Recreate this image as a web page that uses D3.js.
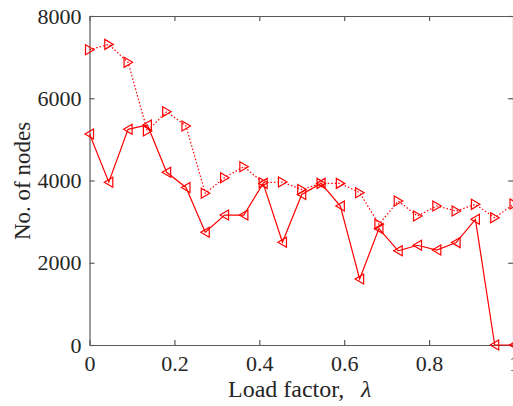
<!DOCTYPE html>
<html><head><meta charset="utf-8">
<script src="https://cdn.jsdelivr.net/npm/d3@7"></script>
<style>body{margin:0;background:#fff}svg{display:block}</style>
</head><body>
<svg id="c" width="513" height="406"></svg>
<script>
const lambda = [0,1,2,3,4,5,6,7,8,9,10,11,12,13,14,15,16,17,18,19,20,21,22].map(i=>i/22);
const solidSeries = [5130,3960,5245,5350,4200,3830,2740,3160,3160,3930,2500,3660,3930,3380,1605,2830,2290,2425,2310,2490,3056,0,0];
const dottedSeries = [7180,7310,6873,5203,5672,5325,3690,4069,4336,3946,3963,3780,3930,3930,3704,2935,3501,3136,3380,3258,3420,3096,3428];
const xTicks = [0,0.2,0.4,0.6,0.8,1];
const xTickLabels = ["0","0.2","0.4","0.6","0.8","1"];
const yTicks = [0,2000,4000,6000,8000];
const yTickLabels = ["0","2000","4000","6000","8000"];

const svg = d3.select("#c");
const L=89.5, R=514, T=16, B=345;
const x = d3.scaleLinear().domain([0,1]).range([L,R]);
const y = d3.scaleLinear().domain([0,8000]).range([B,T]);
const axisCol="#262626", lineCol="#5a5a5a";
const FONT='"Liberation Serif"';

const g = svg.append("g");
const xa = g.append("g").attr("transform",`translate(0,${B})`)
  .call(d3.axisBottom(x).tickValues(xTicks).tickFormat((d,i)=>xTickLabels[i]).tickSizeInner(-5).tickSizeOuter(0).tickPadding(10));
const xt = g.append("g").attr("transform",`translate(0,${T})`)
  .call(d3.axisTop(x).tickValues(xTicks).tickFormat("").tickSizeInner(-5).tickSizeOuter(0));
const ya = g.append("g").attr("transform",`translate(${L},0)`)
  .call(d3.axisLeft(y).tickValues(yTicks).tickFormat((d,i)=>yTickLabels[i]).tickSizeInner(-5).tickSizeOuter(0).tickPadding(8));
const yr = g.append("g").attr("transform",`translate(${R-1},0)`)
  .call(d3.axisRight(y).tickValues(yTicks).tickFormat("").tickSizeInner(-5).tickSizeOuter(0));
[xa,xt,ya,yr].forEach(a=>{
  a.attr("font-family",null).attr("font-size",null);
  a.selectAll("path").attr("stroke",lineCol).attr("stroke-width",1.2);
  a.selectAll("line").attr("stroke",lineCol).attr("stroke-width",1.2);
  a.selectAll("text").attr("fill",axisCol).style("font-family",FONT).style("font-size","22px");
});

const line = d3.line().x((d,i)=>x(lambda[i])).y(d=>y(d));
const red="#ff0000";
g.append("path").datum(dottedSeries).attr("d",line).attr("fill","none").attr("stroke",red).attr("stroke-width",1.2).attr("stroke-dasharray","1.5,2");
g.append("path").datum(solidSeries).attr("d",line).attr("fill","none").attr("stroke",red).attr("stroke-width",1.2);

const s=5;
const rightTri = `M${-s*0.8},${-s} L${s*0.9},0 L${-s*0.8},${s} Z`;
const leftTri = `M${s*0.8},${-s} L${-s*0.9},0 L${s*0.8},${s} Z`;
g.selectAll(".md").data(dottedSeries).enter().append("path")
  .attr("d",rightTri).attr("transform",(d,i)=>`translate(${x(lambda[i])},${y(d)})`)
  .attr("fill","none").attr("stroke",red).attr("stroke-width",1.2);
g.selectAll(".ms").data(solidSeries).enter().append("path")
  .attr("d",leftTri).attr("transform",(d,i)=>`translate(${x(lambda[i])},${y(d)})`)
  .attr("fill","none").attr("stroke",red).attr("stroke-width",1.2);

const xl = svg.append("text").attr("x",228).attr("y",397).attr("text-anchor","start")
  .style("font-family",FONT).style("font-size","24px").attr("fill",axisCol);
xl.append("tspan").text("Load factor,");
xl.append("tspan").attr("x",361).attr("font-style","italic").text("λ");
svg.append("text").attr("transform","translate(30,181) rotate(-90)").attr("text-anchor","middle")
  .style("font-family",FONT).style("font-size","23px").attr("fill",axisCol)
  .text("No. of nodes");
</script>
</body></html>
